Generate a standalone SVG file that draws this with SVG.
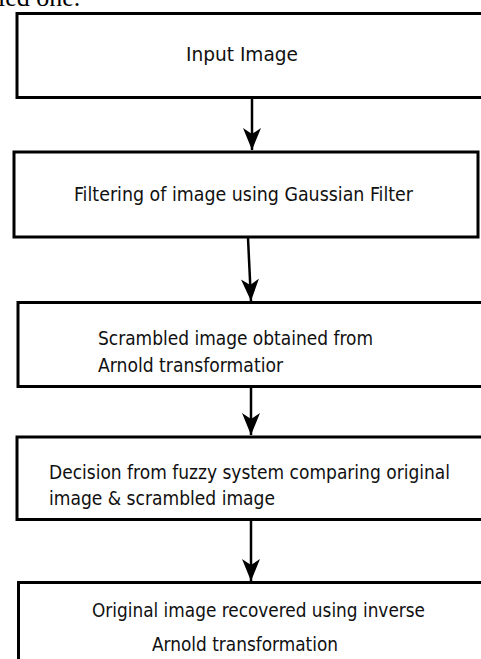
<svg xmlns="http://www.w3.org/2000/svg" width="481" height="659" viewBox="0 0 481 659">
<defs>
<style>
.box{fill:#fff;stroke:#000;stroke-width:3}
.lbl{font-family:"DejaVu Sans Condensed","DejaVu Sans",sans-serif;font-stretch:condensed;font-size:20px;fill:#101010}
.conn{stroke:#000;stroke-width:2.5;fill:none}
.page{font-family:"Liberation Serif",serif;font-size:26px;fill:#000}
</style>
<marker id="ah" viewBox="0 0 22 18" refX="22" refY="9" markerWidth="22" markerHeight="18" markerUnits="userSpaceOnUse" orient="auto">
<path d="M22,9 L0,0 L6,9 L0,18 Z" fill="#000"/>
</marker>
</defs>
<rect width="481" height="659" fill="#fff"/>
<text class="page" x="-2" y="6">ied one.</text>
<g id="n1">
<rect class="box" x="17" y="13.5" width="480" height="84"/>
<text class="lbl" x="186" y="61" textLength="112" lengthAdjust="spacingAndGlyphs">Input Image</text>
</g>
<g id="n2">
<rect class="box" x="14" y="152" width="464" height="85"/>
<text class="lbl" x="74" y="201" textLength="339" lengthAdjust="spacingAndGlyphs">Filtering of image using Gaussian Filter</text>
</g>
<g id="n3">
<rect class="box" x="18" y="302.5" width="480" height="84"/>
<text class="lbl" x="98" y="345" textLength="275" lengthAdjust="spacingAndGlyphs">Scrambled image obtained from</text>
<text class="lbl" x="98" y="372" textLength="185" lengthAdjust="spacingAndGlyphs">Arnold transformatior</text>
</g>
<g id="n4">
<rect class="box" x="17" y="437" width="480" height="82.5"/>
<text class="lbl" x="49" y="479" textLength="401" lengthAdjust="spacingAndGlyphs">Decision from fuzzy system comparing original</text>
<text class="lbl" x="49" y="505" textLength="226" lengthAdjust="spacingAndGlyphs">image &amp; scrambled image</text>
</g>
<g id="n5">
<rect class="box" x="18.5" y="582.5" width="480" height="100"/>
<text class="lbl" x="92" y="617" textLength="333" lengthAdjust="spacingAndGlyphs">Original image recovered using inverse</text>
<text class="lbl" x="152" y="651" textLength="186" lengthAdjust="spacingAndGlyphs">Arnold transformation</text>
</g>
<g id="connectors">
<line class="conn" x1="252" y1="99" x2="252" y2="150" marker-end="url(#ah)"/>
<line class="conn" x1="248" y1="238" x2="251" y2="301" marker-end="url(#ah)"/>
<line class="conn" x1="251" y1="388" x2="251" y2="435" marker-end="url(#ah)"/>
<line class="conn" x1="251" y1="521" x2="251" y2="581" marker-end="url(#ah)"/>
</g>
</svg>
